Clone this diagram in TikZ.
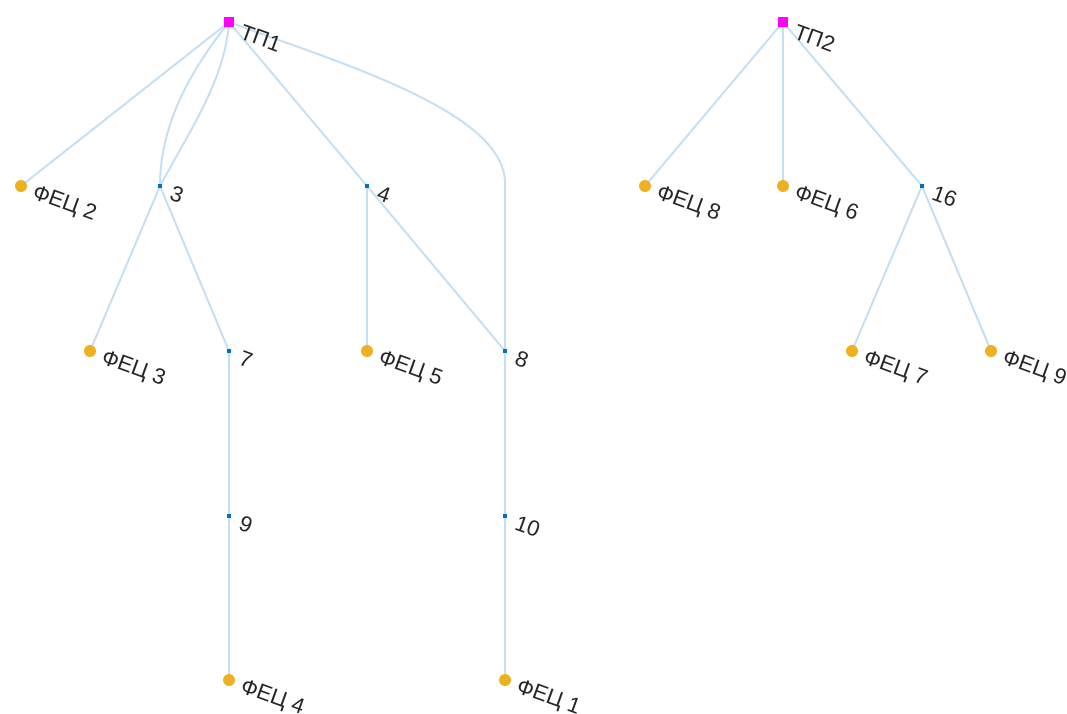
\documentclass[tikz,border=0pt]{standalone}
\usepackage{fontspec}
\setmainfont{Liberation Sans}
\definecolor{edgec}{RGB}{196,222,242}
\definecolor{nodeb}{RGB}{0,114,189}
\definecolor{feco}{RGB}{237,177,32}
\definecolor{txt}{RGB}{38,38,38}
\definecolor{tpc}{RGB}{255,0,255}
\tikzset{
  x=1pt, y=-1pt,
  edge/.style={draw=edgec, line width=1.9pt},
  tp/.style={fill=tpc, minimum size=10pt, inner sep=0pt, draw=none, rectangle},
  fec/.style={fill=feco, circle, minimum size=12pt, inner sep=0pt, draw=none},
  junc/.style={fill=nodeb, rectangle, minimum size=3.5pt, inner sep=0pt, draw=none},
  lbl/.style={anchor=west, rotate=-20, inner sep=0pt, text=txt, font=\fontsize{22}{22}\selectfont}
}
\begin{document}
\begin{tikzpicture}
\useasboundingbox (0,0) rectangle (1067,713);
\clip (0,0) rectangle (1067,713);
% coordinates
\coordinate (tp1) at (229,22);
\coordinate (tp2) at (783,22);
\coordinate (f2) at (21,186);
\coordinate (j3) at (160,186);
\coordinate (j4) at (367,186);
\coordinate (d8) at (505,183);
\coordinate (f8) at (645,186);
\coordinate (f6) at (783,186);
\coordinate (j16) at (922,186);
\coordinate (f3) at (90,351);
\coordinate (j7) at (229,351);
\coordinate (f5) at (367,351);
\coordinate (j8) at (505,351);
\coordinate (f7) at (852,351);
\coordinate (f9) at (991,351);
\coordinate (j9) at (229,516);
\coordinate (j10) at (505,516);
\coordinate (f4) at (229,680);
\coordinate (f1) at (505,680);
% edges
\draw[edge] (tp1) -- (f2);
\draw[edge] (tp1) .. controls (195,65) and (160,120) .. (j3);
\draw[edge] (tp1) .. controls (225,80) and (190,130) .. (j3);
\draw[edge] (tp1) -- (j4);
\draw[edge] (tp1) .. controls (330,60) and (505,110) .. (d8) -- (j8);
\draw[edge] (j3) -- (f3);
\draw[edge] (j3) -- (j7);
\draw[edge] (j4) -- (f5);
\draw[edge] (j4) -- (j8);
\draw[edge] (j7) -- (j9);
\draw[edge] (j9) -- (f4);
\draw[edge] (j8) -- (j10);
\draw[edge] (j10) -- (f1);
\draw[edge] (tp2) -- (f8);
\draw[edge] (tp2) -- (f6);
\draw[edge] (tp2) -- (j16);
\draw[edge] (j16) -- (f7);
\draw[edge] (j16) -- (f9);
% nodes
\node[tp] (ntp1) at (tp1) {};
\node[tp] (ntp2) at (tp2) {};
\foreach \n in {f1,f2,f3,f4,f5,f6,f7,f8,f9} \node[fec] (n\n) at (\n) {};
\foreach \n in {j3,j4,j7,j8,j9,j10,j16} \node[junc] (n\n) at (\n) {};
% labels
\path (tp1) ++(12,9) node[lbl] {ТП1};
\path (tp2) ++(12,9) node[lbl] {ТП2};
\path (j3) ++(11,6) node[lbl] {3};
\path (j4) ++(11,6) node[lbl] {4};
\path (j7) ++(11,6) node[lbl] {7};
\path (j8) ++(11,6) node[lbl] {8};
\path (j9) ++(11,6) node[lbl] {9};
\path (j10) ++(11,6) node[lbl] {10};
\path (j16) ++(11,6) node[lbl] {16};
\path (f1) ++(12,7) node[lbl] {ФЕЦ 1};
\path (f2) ++(12,7) node[lbl] {ФЕЦ 2};
\path (f3) ++(12,7) node[lbl] {ФЕЦ 3};
\path (f4) ++(12,7) node[lbl] {ФЕЦ 4};
\path (f5) ++(12,7) node[lbl] {ФЕЦ 5};
\path (f6) ++(12,7) node[lbl] {ФЕЦ 6};
\path (f7) ++(12,7) node[lbl] {ФЕЦ 7};
\path (f8) ++(12,7) node[lbl] {ФЕЦ 8};
\path (f9) ++(12,7) node[lbl] {ФЕЦ 9};
\end{tikzpicture}
\end{document}
